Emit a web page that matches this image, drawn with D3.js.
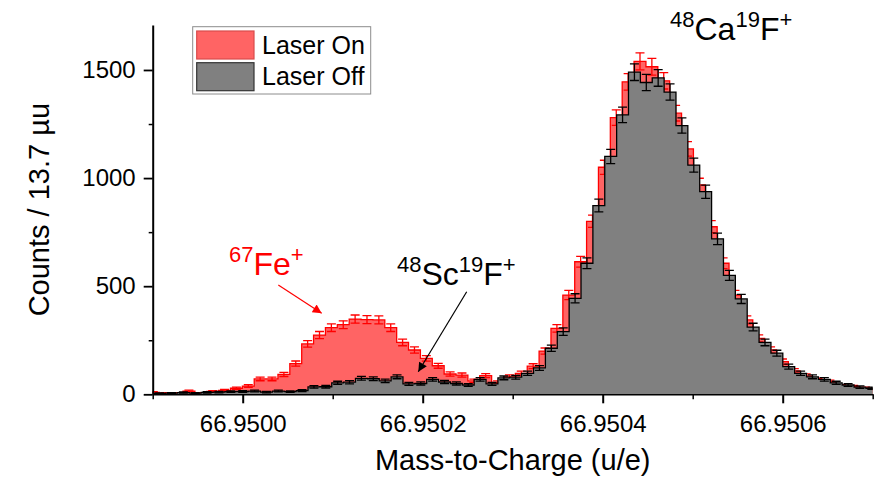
<!DOCTYPE html>
<meta charset="utf-8">
<style>
body { margin: 0; background: #fff; }
svg { display: block; font-family: "Liberation Sans", Arial, sans-serif; }
.axis path, .axis line { stroke: #000; }
.axis text { font-size: 24px; fill: #000; font-family: "Liberation Sans", Arial, sans-serif; }
</style>
<svg width="887" height="478"></svg>
<script src="https://cdn.jsdelivr.net/npm/d3@7"></script>
<script>

// tick values
var xTicks = [66.9500, 66.9502, 66.9504, 66.9506],
    xMinor = [66.9499, 66.9501, 66.9503, 66.9505, 66.9507],
    yTicks = [0, 500, 1000, 1500],
    yMinor = [250, 750, 1250];

// histogram bins (u/e) : the two runs are binned on slightly shifted grids
var binWidth = 0.000013189,
    offStart = 66.9499011,
    onStart = 66.9498941;

// counts per bin, laser off
var offCounts = [4, 5, 8, 5, 9, 10, 12, 13, 15, 10, 15, 12, 17, 34, 35, 53, 56, 74, 72, 62,
  81, 48, 50, 69, 57, 50, 43, 69, 48, 76, 79, 97, 122, 213, 290, 444, 606, 873, 1100, 1292,
  1490, 1442, 1463, 1398, 1243, 1060, 937, 719, 550, 441, 311, 240, 190, 128, 97, 81, 69, 53, 43, 33,
  28];

// counts per bin, laser on
var onCounts = [9, 5, 5, 15, 5, 13, 18, 28, 38, 71, 71, 92, 142, 233, 274, 308, 322, 348, 345, 344,
  308, 240, 205, 166, 132, 94, 89, 62, 86, 55, 81, 97, 130, 200, 305, 459, 613, 800, 1050, 1280,
  1445, 1540, 1515, 1450, 1300, 1135, 968, 775, 606, 459, 344, 259, 205, 151, 108, 85, 66, 58, 38, 35,
  28, 22];

var seriesNames = ["Laser On", "Laser Off"];

var svg = d3.select("svg"),
    margin = {top: 25, right: 14.3, bottom: 83.7, left: 152.7},
    width = +svg.attr("width") - margin.left - margin.right,
    height = +svg.attr("height") - margin.top - margin.bottom;

var x = d3.scaleLinear().domain([66.9499, 66.9507]).range([0, width]),
    y = d3.scaleLinear().domain([0, 1708]).range([height, 0]);

var defs = svg.append("defs");
defs.append("clipPath").attr("id", "clip")
  .append("rect").attr("width", width).attr("height", height + 1);

function marker(id, color) {
  defs.append("marker")
      .attr("id", id)
      .attr("viewBox", "0 0 10 10")
      .attr("refX", 10).attr("refY", 5)
      .attr("markerUnits", "userSpaceOnUse")
      .attr("markerWidth", 11).attr("markerHeight", 9)
      .attr("orient", "auto")
    .append("path")
      .attr("d", "M0,0L10,5L0,10z")
      .attr("fill", color);
}
marker("arrowRed", "#ff0000");
marker("arrowBlack", "#000");

var g = svg.append("g").attr("transform", "translate(" + margin.left + "," + margin.top + ")");

function makeBins(start, counts) {
  return counts.map(function(c, i) {
    return {x0: start + i * binWidth, x1: start + (i + 1) * binWidth, v: c};
  });
}

var onBins = makeBins(onStart, onCounts),
    offBins = makeBins(offStart, offCounts);

function stepPoints(bins) {
  var pts = bins.map(function(b) { return {x: b.x0, v: b.v}; });
  var last = bins[bins.length - 1];
  pts.push({x: last.x1, v: last.v});
  return pts;
}

var area = d3.area()
    .curve(d3.curveStepAfter)
    .x(function(d) { return x(d.x); })
    .y0(y(0))
    .y1(function(d) { return y(d.v); });

var line = d3.line()
    .curve(d3.curveStepAfter)
    .x(function(d) { return x(d.x); })
    .y(function(d) { return y(d.v); });

var plot = g.append("g").attr("clip-path", "url(#clip)");

function drawHist(bins, fill, stroke, errColor) {
  var pts = stepPoints(bins);
  plot.append("path").datum(pts)
      .attr("d", area)
      .attr("fill", fill);
  plot.append("path").datum(pts)
      .attr("d", line)
      .attr("fill", "none")
      .attr("stroke", stroke)
      .attr("stroke-width", 1.3);

  var err = plot.append("g")
      .attr("stroke", errColor)
      .attr("stroke-width", 1.3)
    .selectAll("g")
    .data(bins)
    .enter().append("g")
      .attr("transform", function(d) { return "translate(" + x((d.x0 + d.x1) / 2) + ",0)"; });

  err.append("line")
      .attr("y1", function(d) { return y(d.v - Math.sqrt(d.v)); })
      .attr("y2", function(d) { return y(d.v + Math.sqrt(d.v)); });
  err.append("line")
      .attr("x1", -4.5).attr("x2", 4.5)
      .attr("y1", function(d) { return y(d.v + Math.sqrt(d.v)); })
      .attr("y2", function(d) { return y(d.v + Math.sqrt(d.v)); });
  err.append("line")
      .attr("x1", -4.5).attr("x2", 4.5)
      .attr("y1", function(d) { return y(d.v - Math.sqrt(d.v)); })
      .attr("y2", function(d) { return y(d.v - Math.sqrt(d.v)); });
}

drawHist(onBins, "#ff6464", "#ff0000", "#ff0000");
drawHist(offBins, "#808080", "#000", "#000");

// axes
g.append("g")
    .attr("class", "axis")
    .attr("transform", "translate(0," + height + ")")
    .call(d3.axisBottom(x).tickValues(xMinor).tickSize(5).tickSizeOuter(0).tickFormat(""))
    .call(function(a) { a.select(".domain").remove(); })
    .selectAll("line").attr("stroke-width", 1.5);

g.append("g")
    .attr("class", "axis")
    .attr("transform", "translate(0," + height + ")")
    .call(d3.axisBottom(x).tickValues(xTicks).tickSize(9).tickSizeOuter(0)
      .tickPadding(11.7).tickFormat(d3.format(".4f")))
    .call(function(a) {
      a.select(".domain").attr("stroke-width", 1.5);
      a.selectAll("line").attr("stroke-width", 2);
    });

g.append("g")
    .attr("class", "axis")
    .call(d3.axisLeft(y).tickValues(yMinor).tickSize(4).tickSizeOuter(0).tickFormat(""))
    .call(function(a) { a.select(".domain").remove(); })
    .selectAll("line").attr("stroke-width", 1.5);

g.append("g")
    .attr("class", "axis")
    .call(d3.axisLeft(y).tickValues(yTicks).tickSize(9).tickSizeOuter(0).tickPadding(8)
      .tickFormat(d3.format("d")))
    .call(function(a) {
      a.select(".domain").attr("stroke-width", 2);
      a.selectAll("line").attr("stroke-width", 1.8);
    });

// axis titles
svg.append("text")
    .attr("x", margin.left + width / 2)
    .attr("y", 470)
    .attr("text-anchor", "middle")
    .style("font-size", "29px")
    .text("Mass-to-Charge (u/e)");

svg.append("text")
    .attr("transform", "translate(49," + (margin.top + height / 2) + ") rotate(-90)")
    .attr("text-anchor", "middle")
    .style("font-size", "29px")
    .text("Counts / 13.7 \u00b5u");

// legend
var legend = svg.append("g");
legend.append("rect")
    .attr("x", 192.7).attr("y", 26.7)
    .attr("width", 178).attr("height", 67.3)
    .attr("fill", "#fff")
    .attr("stroke", "#8c8c8c");
var swatches = [{fill: "#ff6464", stroke: "#d94c4c"}, {fill: "#808080", stroke: "#333"}];
seriesNames.forEach(function(name, i) {
  legend.append("rect")
      .attr("x", 196.7).attr("y", 31 + i * 31.7)
      .attr("width", 57.3).attr("height", 28)
      .attr("fill", swatches[i].fill)
      .attr("stroke", swatches[i].stroke)
      .attr("stroke-width", 1.2);
  legend.append("text")
      .attr("x", 262).attr("y", 54 + i * 31)
      .style("font-size", "25px")
      .text(name);
});

// peak labels
function chemLabel(x0, y0, parts, color) {
  var t = svg.append("text").attr("x", x0).attr("y", y0).attr("fill", color);
  var shifted = false;
  parts.forEach(function(p) {
    var sup = p[1];
    var dy = 0;
    if (sup && !shifted) { dy = -13; shifted = true; }
    else if (!sup && shifted) { dy = 13; shifted = false; }
    t.append("tspan")
        .attr("dy", dy)
        .style("font-size", sup ? "22px" : "32px")
        .text(p[0]);
  });
}

chemLabel(670, 40, [["48", 1], ["Ca", 0], ["19", 1], ["F", 0], ["+", 1]], "#000");
chemLabel(229, 275, [["67", 1], ["Fe", 0], ["+", 1]], "#ff0000");
chemLabel(397, 285, [["48", 1], ["Sc", 0], ["19", 1], ["F", 0], ["+", 1]], "#000");

svg.append("line")
    .attr("x1", 278.3).attr("y1", 285)
    .attr("x2", 321.7).attr("y2", 313.3)
    .attr("stroke", "#ff0000")
    .attr("stroke-width", 1.2)
    .attr("marker-end", "url(#arrowRed)");

svg.append("line")
    .attr("x1", 466.7).attr("y1", 291.7)
    .attr("x2", 418.3).attr("y2", 371.7)
    .attr("stroke", "#000")
    .attr("stroke-width", 1.2)
    .attr("marker-end", "url(#arrowBlack)");

</script>
